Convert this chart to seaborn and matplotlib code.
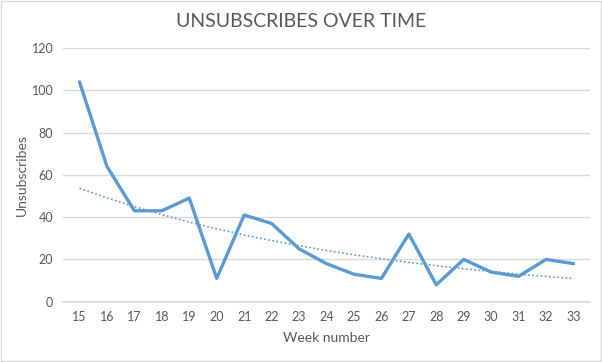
import numpy as np
import pandas as pd
import seaborn as sns
import matplotlib.pyplot as plt
from matplotlib.patches import Rectangle

weeks = [15, 16, 17, 18, 19, 20, 21, 22, 23, 24, 25, 26, 27, 28, 29, 30, 31, 32, 33]
unsubs = [104, 64, 43, 43, 49, 11, 41, 37, 25, 18, 13, 11, 32, 8, 20, 14, 12, 20, 18]

df = pd.DataFrame({"week": weeks, "unsubs": unsubs})

# exponential trendline like excel
b, a = np.polyfit(df["week"], np.log(df["unsubs"]), 1)
df["trend"] = np.exp(a + b * df["week"])

sns.set_theme(style="white")
plt.rcParams["font.family"] = ["Lato", "DejaVu Sans"]

fig = plt.figure(figsize=(6.02, 3.62), dpi=100)
ax = fig.add_axes([0.1047, 0.1666, 0.8753, 0.7008])

blue = "#5B9BD5"
grey_txt = "#595959"

sns.lineplot(data=df, x="week", y="unsubs", color=blue, linewidth=2.4, ax=ax, zorder=3)
sns.lineplot(data=df, x="week", y="trend", color=blue, linewidth=1.2, linestyle=(0, (1, 1.5)), ax=ax, zorder=2)

ax.set_xlim(14.4, 33.6)
ax.set_ylim(0, 120)
ax.set_xticks(weeks)
ax.set_yticks(range(0, 121, 20))
ax.yaxis.grid(True, color="#D9D9D9", linewidth=1)
ax.set_axisbelow(True)
for s in ["top", "right", "left"]:
    ax.spines[s].set_visible(False)
ax.spines["bottom"].set_color("#D9D9D9")
ax.tick_params(axis="both", labelsize=9, colors=grey_txt, length=0, pad=7)

ax.set_xlabel("Week number", fontsize=10, color=grey_txt, labelpad=6)
ax.set_ylabel("Unsubscribes", fontsize=10, color=grey_txt, labelpad=3)
fig.suptitle("UNSUBSCRIBES OVER TIME", fontsize=14, color=grey_txt, y=0.965)

fig.patches.append(Rectangle((0.002, 0.003), 0.996, 0.994, transform=fig.transFigure,
                             fill=False, edgecolor="#D9D9D9", linewidth=1))

fig.savefig("out.png", dpi=100)
